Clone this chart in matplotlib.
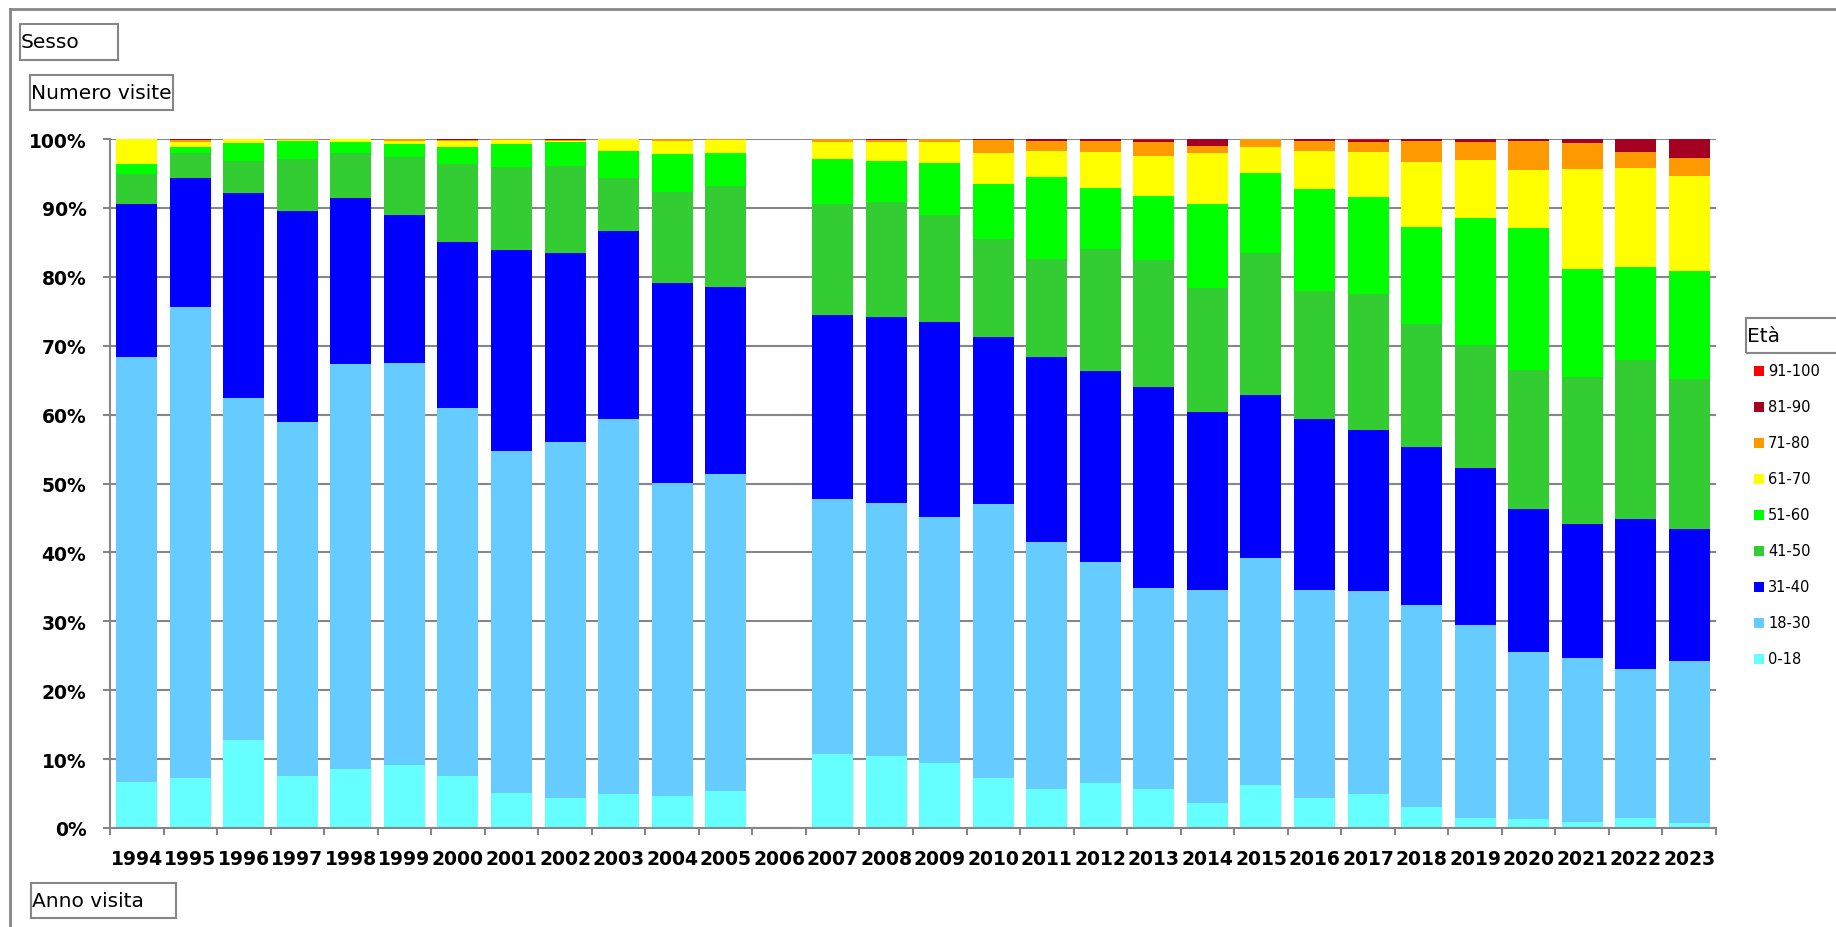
import numpy as np
import matplotlib
matplotlib.use("Agg")
import matplotlib.pyplot as plt
from matplotlib.patches import Rectangle
from matplotlib.lines import Line2D

# Quota di visite per fascia d'età (in %)
anni = [str(a) for a in range(1994, 2024)]
fasce = ["0-18", "18-30", "31-40", "41-50", "51-60", "61-70", "71-80", "81-90", "91-100"]

eta_0_18 = [6.7, 7.3, 12.7, 7.6, 8.6, 9.1, 7.6, 5.1, 4.4, 4.9, 4.6, 5.3, 0,
            10.8, 10.5, 9.4, 7.2, 5.6, 6.5, 5.6, 3.7, 6.3, 4.4, 4.9, 3.1, 1.5, 1.3, 0.9, 1.4, 0.7]
eta_18_30 = [61.7, 68.3, 49.7, 51.3, 58.7, 58.4, 53.3, 49.6, 51.6, 54.4, 45.5, 46.1, 0,
             37.0, 36.6, 35.8, 39.8, 35.9, 32.1, 29.3, 30.8, 32.9, 30.1, 29.5, 29.3, 27.9, 24.2, 23.8, 21.7, 23.5]
eta_31_40 = [22.1, 18.7, 29.8, 30.6, 24.2, 21.4, 24.1, 29.2, 27.4, 27.3, 29.0, 27.1, 0,
             26.7, 27.0, 28.3, 24.2, 26.9, 27.8, 29.1, 25.9, 23.6, 24.9, 23.3, 22.9, 22.9, 20.8, 19.4, 21.8, 19.2]
eta_41_50 = [4.4, 3.7, 4.6, 7.6, 6.4, 8.5, 11.3, 12.1, 12.7, 7.7, 13.2, 14.7, 0,
             16.1, 16.8, 15.4, 14.3, 14.2, 17.7, 18.5, 18.0, 20.7, 18.5, 19.8, 17.9, 17.8, 20.2, 21.3, 23.0, 21.7]
eta_51_60 = [1.5, 0.8, 2.6, 2.6, 1.6, 1.9, 2.6, 3.3, 3.4, 4.0, 5.5, 4.7, 0,
             6.5, 5.9, 7.6, 7.9, 11.9, 8.8, 9.2, 12.2, 11.5, 14.9, 14.1, 14.1, 18.4, 20.6, 15.7, 13.5, 15.8]
eta_61_70 = [3.6, 0.7, 0.6, 0.2, 0.5, 0.4, 0.8, 0.5, 0.2, 1.7, 1.9, 1.9, 0,
             2.5, 2.7, 3.0, 4.6, 3.7, 5.2, 5.8, 7.3, 3.9, 5.4, 6.5, 9.4, 8.4, 8.4, 14.6, 14.4, 13.8]
eta_71_80 = [0, 0.4, 0, 0.1, 0, 0.3, 0.2, 0.2, 0.2, 0, 0.3, 0.2, 0,
             0.4, 0.4, 0.5, 1.8, 1.5, 1.6, 2.1, 1.1, 1.1, 1.5, 1.5, 3.0, 2.7, 4.2, 3.7, 2.3, 2.6]
eta_81_90 = [0, 0.1, 0, 0, 0, 0, 0.1, 0, 0.1, 0, 0, 0, 0,
             0, 0.1, 0, 0.2, 0.3, 0.3, 0.3, 1.0, 0, 0.3, 0.3, 0.3, 0.4, 0.3, 0.6, 1.9, 2.7]
eta_91_100 = [0, 0, 0, 0, 0, 0, 0, 0, 0, 0, 0, 0, 0,
              0, 0, 0, 0, 0, 0, 0.1, 0, 0, 0, 0.1, 0, 0, 0, 0, 0, 0]

colori = ["#66FFFF", "#66CCFF", "#0000FF", "#33CC33", "#00FF00",
          "#FFFF00", "#FF9900", "#A50021", "#FF0000"]

serie = np.array([eta_0_18, eta_18_30, eta_31_40, eta_41_50, eta_51_60,
                  eta_61_70, eta_71_80, eta_81_90, eta_91_100], dtype=float)
totali = serie.sum(axis=0)
quote = np.divide(serie * 100, totali, out=np.zeros_like(serie), where=totali > 0)

W, H = 1836, 928
GREY = "#868686"


def fx(x):
    return x / W


def fy(y):
    return 1 - y / H


fig = plt.figure(figsize=(W / 100, H / 100), dpi=100)
ax = fig.add_axes([fx(110), fy(829), fx(1716) - fx(110), fy(140) - fy(829)])

x = np.arange(len(anni))
base = np.zeros(len(anni))
for q, c, f in zip(quote, colori, fasce):
    ax.bar(x, q, bottom=base, width=0.766, color=c, linewidth=0, label=f, zorder=2)
    base += q

ax.set_xlim(-0.5, len(anni) - 0.5)
ax.set_ylim(0, 100)
ax.set_yticks(np.arange(0, 101, 10))
ax.set_yticklabels([f"{v}%" for v in range(0, 101, 10)])
ax.yaxis.grid(True, color=GREY, linewidth=1.5, zorder=0)
ax.set_axisbelow(True)

ax.set_xticks(x)
ax.set_xticklabels(anni)
ax.set_xticks(np.arange(-0.5, len(anni)), minor=True)
ax.tick_params(axis="x", which="major", length=0, pad=15)
ax.tick_params(axis="x", which="minor", length=5, width=1.5, color=GREY)
ax.tick_params(axis="y", length=5, width=1.5, color=GREY, pad=12)
for lab in ax.get_xticklabels() + ax.get_yticklabels():
    lab.set_fontweight("bold")
    lab.set_fontsize(13.5)

for s in ["top", "right"]:
    ax.spines[s].set_visible(False)
for s in ["left", "bottom"]:
    ax.spines[s].set_color(GREY)
    ax.spines[s].set_linewidth(1.5)

# cornice esterna
fig.add_artist(Line2D([fx(10), 1], [fy(10), fy(10)], color=GREY, linewidth=2))
fig.add_artist(Line2D([fx(10), fx(10)], [fy(10), 0], color=GREY, linewidth=2))


def box(x0, y0, x1, y1, testo):
    fig.add_artist(Rectangle((fx(x0), fy(y1)), fx(x1) - fx(x0), fy(y0) - fy(y1),
                             transform=fig.transFigure, fill=False,
                             edgecolor=GREY, linewidth=1.5))
    fig.text(fx(x0 + 1), fy((y0 + y1) / 2), testo, fontsize=14.5,
             ha="left", va="center")


box(20, 25, 118, 61, "Sesso")
box(30, 76, 173, 111, "Numero visite")
box(31, 884, 176, 919, "Anno visita")
box(1746, 319, 1840, 354, "Età")

# legenda
for i, (f, c) in enumerate(zip(fasce[::-1], colori[::-1])):
    yc = 372 + 36 * i
    fig.add_artist(Rectangle((fx(1754), fy(yc + 5)), fx(10), 10 / H,
                             transform=fig.transFigure, facecolor=c, linewidth=0))
    fig.text(fx(1768), fy(yc), f, fontsize=10.5, ha="left", va="center")

fig.savefig("out.png", dpi=100)
